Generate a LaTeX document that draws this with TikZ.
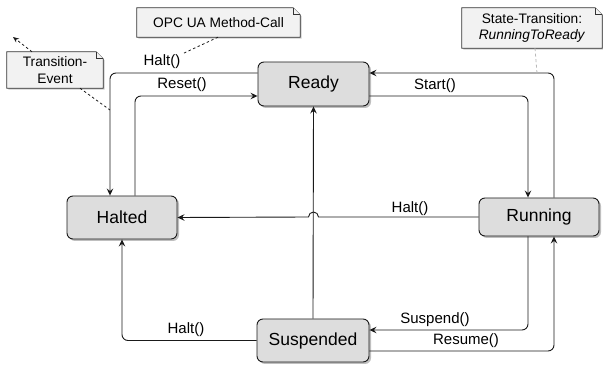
\documentclass[tikz,border=0pt]{standalone}
\usepackage{fontspec}
\setmainfont{Liberation Sans}
\usetikzlibrary{arrows.meta,shadows,backgrounds}
\definecolor{statefill}{HTML}{DDDDDD}
\definecolor{notefill}{HTML}{F2F2F2}
\definecolor{linecol}{HTML}{1A1A1A}
\definecolor{noteline}{HTML}{333333}

% folded-corner frame drawn behind a note node
\newcommand\foldnote[1]{%
  \begin{scope}[on background layer]
    \filldraw[notepath, drop shadow={shadow xshift=1.5pt, shadow yshift=-1.5pt, opacity=0.2, fill=black}]
      (#1.south west) -- (#1.south east) -- ([yshift=-7pt]#1.north east)
      -- ([xshift=-7pt]#1.north east) -- (#1.north west) -- cycle;
    \draw[notepath] ([xshift=-7pt]#1.north east) -- ([xshift=-7pt,yshift=-7pt]#1.north east)
      -- ([yshift=-7pt]#1.north east);
  \end{scope}}

\begin{document}
\begin{tikzpicture}[x=1pt,y=-1pt,
  state/.style={draw=linecol, fill=statefill, rounded corners=6pt, line width=0.9pt,
    inner sep=0pt, font=\fontsize{17.5}{20}\selectfont,
    drop shadow={shadow xshift=2pt, shadow yshift=-2pt, opacity=0.25, fill=black}},
  notebox/.style={inner sep=0pt, align=center, font=\fontsize{13.75}{16.5}\selectfont},
  notepath/.style={draw=noteline, fill=notefill, line width=0.7pt},
  tr/.style={draw=linecol, line width=0.9pt, rounded corners=6pt,
    -{Stealth[length=7pt,width=6.5pt,inset=2.5pt]}},
  lab/.style={font=\fontsize{15}{18}\selectfont, inner sep=1pt},
  anno/.style={draw=linecol, line width=0.8pt, dash pattern=on 2.5pt off 2.5pt},
  annolight/.style={draw=gray!55, line width=0.8pt, dash pattern=on 3pt off 2.5pt}]

\useasboundingbox (0,0) rectangle (603,366);

% states
\node[state, minimum width=111pt, minimum height=44pt] (Ready) at (313.5,84) {Ready};
\node[state, minimum width=110pt, minimum height=43pt] (Halted) at (122,217.5) {Halted};
\node[state, minimum width=120pt, minimum height=38pt] (Running) at (539,217) {Running};
\node[state, minimum width=112pt, minimum height=43pt] (Suspended) at (313,340.5) {Suspended};

% transitions
\draw[tr] ([yshift=11pt]Ready.west) -| ([xshift=-12pt]Halted.north);
\draw[tr] ([xshift=13pt]Halted.north) |- ([yshift=-12pt]Ready.west);
\draw[tr] ([yshift=-12pt]Ready.east) -| ([xshift=-11pt]Running.north);
\draw[tr] ([xshift=15pt]Running.north) |- ([yshift=11pt]Ready.east);
\draw[tr] (Suspended.north) -- (Ready.south);
% line hop where this transition crosses the vertical one above
\draw[tr, sharp corners] (Running.west) -- (318.5,217)
  arc[start angle=0, end angle=180, radius=5pt] -- (Halted.east);
\draw[tr] ([xshift=-11pt]Running.south) |- ([yshift=10.5pt]Suspended.east);
\draw[tr] ([yshift=-10.5pt]Suspended.east) -| ([xshift=15pt]Running.south);
\draw[tr] (Suspended.west) -| (Halted.south);

% transition labels
\node[lab] (l1) at (162,62) {Halt()};
\node[lab] (l2) at (182,85) {Reset()};
\node[lab] (l3) at (435,86) {Start()};
\node[lab] (l4) at (410,209) {Halt()};
\node[lab] (l5) at (435,320) {Suspend()};
\node[lab] (l6) at (466,341) {Resume()};
\node[lab] (l7) at (186,330) {Halt()};

% notes
\node[notebox, minimum width=163pt, minimum height=29pt] (nOpc) at (218.5,22.5) {OPC UA Method-Call};
\foldnote{nOpc}
\node[notebox, minimum width=96pt, minimum height=36pt] (nEvt) at (55,70) {Transition-\\Event};
\foldnote{nEvt}
\node[notebox, minimum width=140pt, minimum height=40pt] (nSt) at (532,28) {State-Transition:\\\textit{RunningToReady}};
\foldnote{nSt}

% annotation links
\coordinate (aOpc) at (182,54);
\coordinate (aEvt) at (110,110);
\coordinate (aOut) at (13,37);
\coordinate (aSt) at (537,73);
\draw[anno] ([xshift=-0.5pt]nOpc.south) -- (aOpc);
\draw[anno] ([xshift=25pt]nEvt.south) -- (aEvt);
\draw[anno, -{Stealth[length=6pt,width=5pt]}] ([xshift=-23pt]nEvt.north) -- (aOut);
\draw[annolight] ([xshift=3pt]nSt.south) -- (aSt);

\end{tikzpicture}
\end{document}
